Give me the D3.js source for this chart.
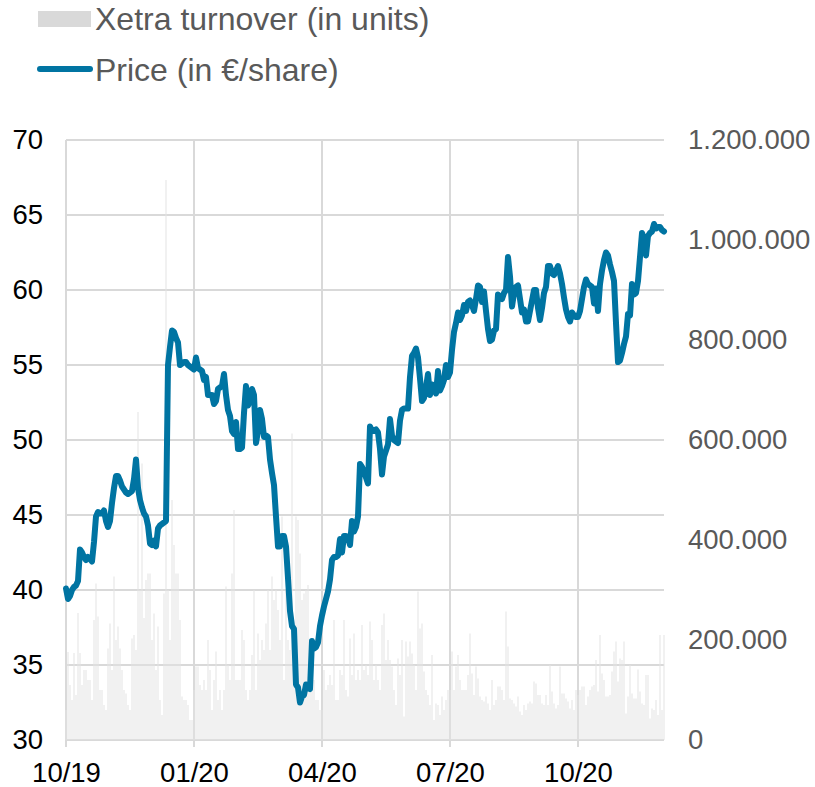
<!DOCTYPE html>
<html>
<head>
<meta charset="utf-8">
<title>Price and Xetra turnover</title>
<script src="https://d3js.org/d3.v7.min.js"></script>
<style>
	body { margin: 0; background: #fff; }
	text { font-family: "Liberation Sans", Arial, sans-serif; }
	.grid line { stroke: #d9d9d9; stroke-width: 2; shape-rendering: crispEdges; }
	.axis path { display: none; }
	.axis line { stroke: #d9d9d9; stroke-width: 2; }
	.y-left text { fill: #000; font-size: 27.5px; }
	.y-right text { fill: #595959; font-size: 27.5px; }
	.x-axis text { fill: #000; font-size: 27.5px; }
	.legend text { fill: #595959; font-size: 32px; }
</style>
</head>
<body>
<svg id="chart"></svg>
<script>
// quarter ticks (index of trading day) and labels
var tickIdx = [0, 64, 128, 192, 256];
var tickLabels = ['10/19', '01/20', '04/20', '07/20', '10/20'];
var priceTicks = [30, 35, 40, 45, 50, 55, 60, 65, 70];
var volTicks = [0, 200, 400, 600, 800, 1000, 1200];
var volTickLabels = ['0', '200.000', '400.000', '600.000', '800.000', '1.000.000', '1.200.000'];

// daily closing price (EUR/share), Oct 2019 - Nov 2020
var price = [
	40.1, 39.4, 39.6, 40.0, 40.2, 40.3, 40.6, 42.7, 42.5, 42.2,
	42.0, 42.2, 42.1, 41.9, 43.2, 44.9, 45.2, 45.1, 45.1, 45.3,
	44.6, 44.2, 44.6, 45.8, 46.8, 47.6, 47.6, 47.3, 46.9, 46.7,
	46.5, 46.4, 46.5, 46.6, 47.4, 48.7, 46.8, 46.0, 45.5, 45.1,
	44.9, 44.3, 43.1, 43.0, 43.3, 42.9, 44.1, 44.3, 44.4, 44.5,
	44.6, 55.0, 56.2, 57.3, 57.2, 56.8, 56.5, 55.0, 55.1, 55.2,
	55.2, 55.0, 54.9, 54.8, 54.7, 55.5, 54.8, 54.7, 54.6, 54.0,
	54.2, 53.0, 53.0, 53.0, 52.4, 52.6, 53.4, 53.5, 53.6, 54.4,
	53.0, 52.0, 51.6, 50.6, 50.4, 51.2, 49.4, 49.4, 49.5, 51.8,
	53.6, 52.3, 52.6, 53.4, 53.0, 49.8, 50.6, 52.0, 51.4, 50.2,
	50.3, 50.2, 48.7, 47.8, 47.0, 44.9, 42.9, 42.9, 43.6, 43.6,
	42.9, 40.8, 38.6, 37.6, 37.4, 33.7, 33.5, 32.5, 32.9, 33.0,
	33.7, 33.5, 33.4, 36.6, 36.1, 36.2, 36.5, 37.6, 38.3, 38.9,
	39.4, 39.9, 40.7, 42.0, 42.2, 42.2, 42.3, 43.4, 42.5, 43.6,
	43.6, 43.5, 43.0, 44.6, 43.9, 44.2, 44.9, 48.4, 48.2, 47.9,
	47.5, 47.1, 50.9, 50.6, 50.6, 50.7, 50.5, 49.4, 47.7, 48.9,
	49.3, 49.7, 51.4, 50.3, 50.0, 49.9, 49.8, 51.3, 52.0, 52.1,
	52.1, 52.1, 54.2, 55.6, 55.8, 56.1, 55.5, 54.1, 52.6, 52.8,
	53.5, 54.4, 53.0, 53.7, 53.4, 53.1, 54.6, 53.3, 53.6, 54.0,
	55.0, 54.2, 54.5, 56.0, 57.2, 57.8, 58.5, 58.0, 58.3, 59.0,
	58.6, 59.2, 59.3, 59.0, 58.6, 59.4, 60.3, 60.2, 59.2, 59.9,
	58.6, 57.4, 56.6, 56.7, 57.3, 57.4, 59.7, 59.5, 59.4, 59.8,
	60.0, 62.2, 60.9, 58.9, 59.8, 60.2, 60.3, 59.4, 58.5, 58.7,
	57.9, 57.9, 58.6, 59.3, 60.0, 60.0, 58.8, 58.0, 58.8, 59.8,
	60.2, 61.6, 61.6, 61.1, 61.0, 61.3, 61.6, 61.1, 60.4, 59.5,
	58.7, 58.2, 57.9, 58.5, 58.3, 58.2, 58.2, 58.6, 59.4, 60.2,
	60.7, 60.4, 60.3, 60.2, 59.1, 60.1, 58.6, 60.4, 61.3, 62.0,
	62.5, 62.3, 61.7, 61.2, 60.6, 57.8, 55.2, 55.3, 55.8, 56.4,
	56.9, 58.4, 58.3, 60.4, 59.7, 59.8, 60.6, 62.2, 63.8, 63.4,
	62.3, 63.6, 63.8, 63.9, 64.4, 64.1, 64.2, 64.2, 64.0, 63.9
];

// daily Xetra turnover, in thousand units
var volumeK = [
	60, 176, 110, 80, 174, 90, 254, 174, 110, 140,
	140, 120, 120, 80, 240, 313, 247, 100, 100, 70,
	60, 183, 233, 140, 327, 200, 227, 183, 140, 100,
	93, 70, 60, 203, 210, 180, 656, 300, 553, 244,
	320, 333, 333, 200, 253, 140, 227, 80, 50, 293,
	1120, 300, 200, 480, 390, 333, 333, 240, 87, 80,
	80, 70, 40, 40, 100, 147, 147, 110, 100, 120,
	100, 200, 140, 60, 120, 177, 80, 100, 60, 100,
	307, 150, 120, 333, 460, 120, 120, 120, 220, 200,
	100, 80, 100, 170, 300, 100, 213, 160, 200, 180,
	233, 300, 180, 327, 280, 300, 260, 200, 447, 120,
	300, 200, 180, 613, 180, 447, 440, 373, 280, 293,
	300, 310, 200, 180, 120, 80, 80, 60, 60, 140,
	100, 110, 130, 110, 240, 80, 80,
	140, 130, 240, 100, 87, 203, 130, 213, 120, 140,
	120, 230, 140, 150, 130, 237, 200, 120, 150, 120,
	100, 230, 253, 160, 200, 160, 147, 100, 70, 163,
	130, 200, 47, 197, 167, 197, 173, 150, 100, 297,
	223, 233, 137, 100, 90, 70, 170, 40, 73, 70,
	50, 87, 60, 80, 100, 100, 177, 100, 147, 170,
	120, 100, 100, 100, 130, 213, 133, 90, 147, 123,
	87, 80, 77, 87, 73, 60, 120, 70, 80, 107,
	107, 100, 80, 257, 187, 83, 80, 73, 67, 87,
	57, 50, 70, 60, 73, 77, 73, 117, 113, 90,
	90, 73, 70, 90, 70, 150, 97, 73, 63, 70,
	147, 93, 93, 83, 77, 63, 80, 60, 100, 90,
	100, 107, 107, 70, 87, 100, 107, 110, 160, 97,
	210, 133, 120, 87, 87, 90, 137, 177, 197, 117,
	163, 160, 197, 53, 87, 150, 93, 83, 83, 141,
	97, 73, 70, 130, 130, 43, 63, 60, 80, 50,
	210, 60, 210
];

var W = 815, H = 787,
	plot = {left: 66, right: 664, top: 140, bottom: 740},
	lineColor = '#0074a2';

var svg = d3.select('#chart').attr('width', W).attr('height', H);

var x = d3.scaleLinear().domain([0, price.length - 1]).range([plot.left, plot.right]),
	yL = d3.scaleLinear().domain([30, 70]).range([plot.bottom, plot.top]),
	yR = d3.scaleLinear().domain([0, 1200]).range([plot.bottom, plot.top]);

// horizontal grid
svg.append('g').attr('class', 'grid')
	.selectAll('line').data(priceTicks).enter().append('line')
		.attr('x1', plot.left).attr('x2', plot.right)
		.attr('y1', function(d){ return yL(d); })
		.attr('y2', function(d){ return yL(d); });

// vertical grid (quarters) incl. small tick below axis
svg.append('g').attr('class', 'grid')
	.selectAll('line').data(tickIdx).enter().append('line')
		.attr('x1', function(d){ return x(d); })
		.attr('x2', function(d){ return x(d); })
		.attr('y1', plot.top).attr('y2', plot.bottom + 7);

// turnover bars
svg.append('g')
	.selectAll('rect').data(volumeK).enter().append('rect')
		.attr('x', function(d, i){ return x(i) - 0.5; })
		.attr('width', 1)
		.attr('y', function(d){ return yR(d); })
		.attr('height', function(d){ return plot.bottom - yR(d); })
		.attr('fill', '#e4e4e4');

// price line
var line = d3.line()
	.x(function(d, i){ return x(i); })
	.y(function(d){ return yL(d); });

svg.append('path')
	.datum(price)
	.attr('d', line)
	.attr('fill', 'none')
	.attr('stroke', lineColor)
	.attr('stroke-width', 6)
	.attr('stroke-linejoin', 'round')
	.attr('stroke-linecap', 'round');

// axes (labels only)
svg.append('g').attr('class', 'axis y-left')
	.attr('transform', 'translate(' + plot.left + ',0)')
	.call(d3.axisLeft(yL).tickValues(priceTicks).tickSize(0).tickPadding(23))
	.selectAll('line').remove();

svg.append('g').attr('class', 'axis y-right')
	.attr('transform', 'translate(' + plot.right + ',0)')
	.call(d3.axisRight(yR).tickValues(volTicks).tickSize(0).tickPadding(24)
		.tickFormat(function(d, i){ return volTickLabels[i]; }))
	.selectAll('line').remove();

svg.append('g').attr('class', 'axis x-axis')
	.attr('transform', 'translate(0,' + plot.bottom + ')')
	.call(d3.axisBottom(x).tickValues(tickIdx).tickSize(0).tickPadding(22)
		.tickFormat(function(d, i){ return tickLabels[i]; }))
	.selectAll('line').remove();

// legend
var lg = svg.append('g').attr('class', 'legend');
lg.append('rect').attr('x', 38).attr('y', 11).attr('width', 53).attr('height', 16).attr('fill', '#d9d9d9');
lg.append('text').attr('x', 95).attr('y', 30).text('Xetra turnover (in units)');
lg.append('line').attr('x1', 40).attr('x2', 90).attr('y1', 69).attr('y2', 69)
	.attr('stroke', lineColor).attr('stroke-width', 6).attr('stroke-linecap', 'round');
lg.append('text').attr('x', 95).attr('y', 81).text('Price (in €/share)');
</script>
</body>
</html>
